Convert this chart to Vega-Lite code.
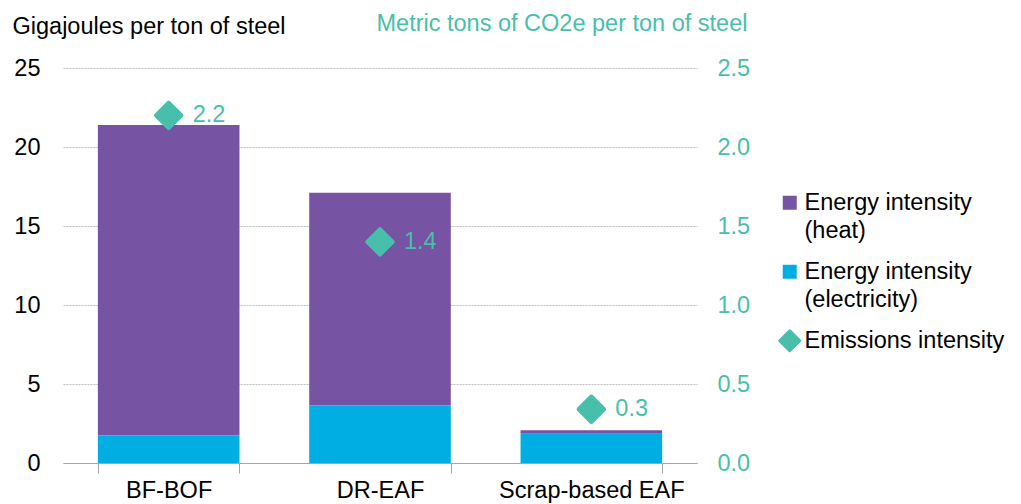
{
  "$schema": "https://vega.github.io/schema/vega-lite/v6.json",
  "width": 634,
  "height": 395,
  "autosize": {"type": "none"},
  "padding": {"left": 63, "top": 68, "right": 324, "bottom": 41},
  "background": "white",
  "config": {"font": "Liberation Sans", "view": {"stroke": null}},
  "datasets": {
    "energy": [
      {"route": "BF-BOF", "series": "Energy intensity (heat)", "value": 19.65},
      {"route": "BF-BOF", "series": "Energy intensity (electricity)", "value": 1.75},
      {"route": "DR-EAF", "series": "Energy intensity (heat)", "value": 13.45},
      {"route": "DR-EAF", "series": "Energy intensity (electricity)", "value": 3.65},
      {"route": "Scrap-based EAF", "series": "Energy intensity (heat)", "value": 0.22},
      {"route": "Scrap-based EAF", "series": "Energy intensity (electricity)", "value": 1.85}
    ],
    "emissions": [
      {"route": "BF-BOF", "series": "Emissions intensity", "value": 2.2},
      {"route": "DR-EAF", "series": "Emissions intensity", "value": 1.4},
      {"route": "Scrap-based EAF", "series": "Emissions intensity", "value": 0.34}
    ]
  },
  "layer": [
    {
      "data": {"name": "energy"},
      "mark": {"type": "bar"},
      "encoding": {
        "x": {
          "field": "route", "type": "nominal",
          "sort": ["BF-BOF", "DR-EAF", "Scrap-based EAF"],
          "scale": {"paddingInner": 0.33, "paddingOuter": 0.165},
          "axis": {
            "title": null, "labelAngle": 0, "labelFontSize": 23.5, "labelColor": "#000000",
            "labelLimit": 400, "labelPadding": 5, "domainColor": "#A6A6A6", "tickColor": "#A6A6A6",
            "tickBand": "extent", "tickSize": 10, "ticks": true, "grid": false
          }
        },
        "y": {
          "field": "value", "type": "quantitative", "stack": true,
          "scale": {"domain": [0, 25]},
          "axis": {
            "values": [0, 5, 10, 15, 20, 25],
            "title": "Gigajoules per ton of steel", "titleAngle": 0,
            "titleX": -51, "titleY": -35, "titleAlign": "left", "titleBaseline": "alphabetic",
            "titleFontSize": 23.5, "titleFontWeight": "normal", "titleColor": "#000000",
            "labelFontSize": 23.5, "labelColor": "#000000", "labelPadding": 23,
            "ticks": false, "domain": false, "grid": true,
            "gridColor": "#BFBFBF", "gridDash": [2, 1]
          }
        },
        "color": {
          "field": "series", "type": "nominal",
          "scale": {
            "domain": ["Energy intensity (heat)", "Energy intensity (electricity)", "Emissions intensity"],
            "range": ["#7753A3", "#00AEE3", "#47BFAA"]
          },
          "legend": {
            "orient": "none", "legendX": 715, "legendY": 123, "title": null,
            "labelFontSize": 23.5, "labelColor": "#000000", "labelLimit": 400, "labelOffset": 3,
            "symbolSize": 196, "symbolType": "square", "symbolOpacity": 1, "rowPadding": 16,
            "labelExpr": "datum.label == 'Energy intensity (heat)' ? ['Energy intensity', '\u2002(heat)'] : datum.label == 'Energy intensity (electricity)' ? ['Energy intensity', '\u2002(electricity)'] : datum.label",
            "encode": {
              "labels": {"update": {"lineHeight": {"value": 28}}},
              "symbols": {
                "update": {
                  "shape": {"signal": "datum.label == 'Emissions intensity' ? 'diamond' : 'square'"},
                  "size": {"signal": "datum.label == 'Emissions intensity' ? 400 : 196"},
                  "stroke": {"signal": "datum.label == 'Emissions intensity' ? '#47BFAA' : null"},
                  "strokeWidth": {"value": 3},
                  "strokeJoin": {"value": "round"}
                }
              }
            }
          }
        },
        "order": {"field": "series", "sort": "ascending"}
      }
    },
    {
      "data": {"name": "emissions"},
      "encoding": {
        "x": {"field": "route", "type": "nominal", "sort": ["BF-BOF", "DR-EAF", "Scrap-based EAF"]},
        "y": {
          "field": "value", "type": "quantitative",
          "scale": {"domain": [0, 2.5]},
          "axis": {
            "orient": "right", "values": [0, 0.5, 1, 1.5, 2, 2.5], "format": ".1f",
            "title": "Metric tons of CO2e per ton of steel", "titleAngle": 0,
            "titleX": -321, "titleY": -38, "titleAlign": "left", "titleBaseline": "alphabetic",
            "titleFontSize": 23.5, "titleFontWeight": "normal", "titleColor": "#47BFAA",
            "labelFontSize": 23.5, "labelColor": "#47BFAA", "labelPadding": 20,
            "ticks": false, "domain": false, "grid": false
          }
        }
      },
      "layer": [
        {
          "mark": {"type": "point", "shape": "diamond", "filled": true, "size": 650, "opacity": 1,
                   "stroke": "#47BFAA", "strokeWidth": 4, "strokeJoin": "round"},
          "encoding": {"color": {"field": "series", "type": "nominal"}}
        },
        {
          "mark": {"type": "text", "align": "left", "baseline": "middle", "dx": 24, "fontSize": 23.5, "color": "#47BFAA"},
          "encoding": {"text": {"field": "value", "type": "quantitative", "format": ".1f"}}
        }
      ]
    }
  ],
  "resolve": {"scale": {"y": "independent"}}
}
